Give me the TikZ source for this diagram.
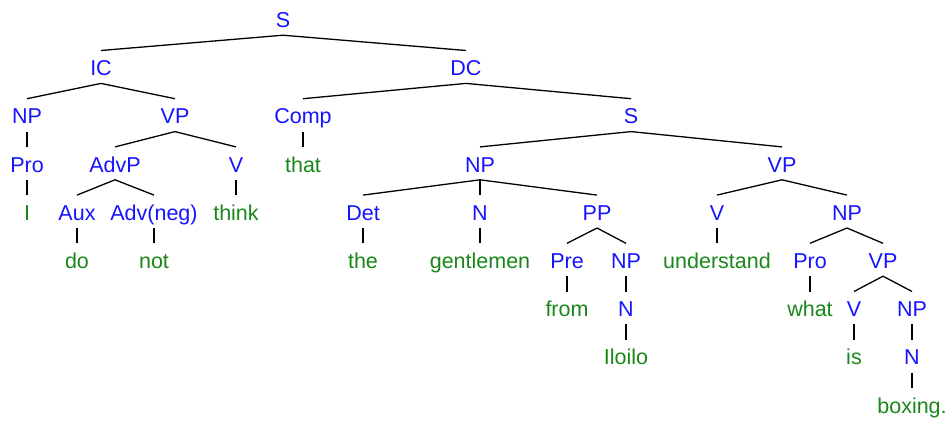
\documentclass[tikz,border=0pt]{standalone}
\usepackage{fontspec}
\setmainfont{Liberation Sans}
\definecolor{catblue}{RGB}{20,20,255}
\definecolor{wordgreen}{RGB}{25,135,25}
\begin{document}
\begin{tikzpicture}[x=1pt,y=-1pt,
  lab/.style={anchor=base,inner sep=0pt,text height=15pt,text depth=5pt,font=\fontsize{21.5}{24}\selectfont},
  cat/.style={lab,text=catblue},
  wrd/.style={lab,text=wordgreen},
  edge/.style={black,line width=1.3pt}]
\useasboundingbox (0,0) rectangle (946,421);
% baselines
\def\la{27.5}\def\lb{75.7}\def\lc{123.9}\def\ld{172.1}\def\le{220.3}
\def\lf{268.5}\def\lg{316.7}\def\lh{364.9}\def\li{413.1}
% level 1
\node[cat] (S) at (283,\la) {S};
% level 2
\node[cat] (IC) at (101,\lb) {IC};
\node[cat] (DC) at (466,\lb) {DC};
% level 3
\node[cat] (NP1) at (27,\lc) {NP};
\node[cat] (VP1) at (175,\lc) {VP};
\node[cat] (Comp) at (303,\lc) {Comp};
\node[cat] (S2) at (631,\lc) {S};
% level 4
\node[cat] (Pro1) at (27,\ld) {Pro};
\node[cat] (AdvP) at (115,\ld) {AdvP};
\node[cat] (V1) at (236,\ld) {V};
\node[wrd] (that) at (303,\ld) {that};
\node[cat] (NP2) at (480,\ld) {NP};
\node[cat] (VP2) at (782,\ld) {VP};
% level 5
\node[wrd] (I) at (27,\le) {I};
\node[cat] (Aux) at (77,\le) {Aux};
\node[cat] (Adv) at (154,\le) {Adv(neg)};
\node[wrd] (think) at (236,\le) {think};
\node[cat] (Det) at (363,\le) {Det};
\node[cat] (N1) at (480,\le) {N};
\node[cat] (PP) at (597,\le) {PP};
\node[cat] (V2) at (717,\le) {V};
\node[cat] (NP3) at (847,\le) {NP};
% level 6
\node[wrd] (do) at (77,\lf) {do};
\node[wrd] (not) at (154,\lf) {not};
\node[wrd] (the) at (363,\lf) {the};
\node[wrd] (gent) at (480,\lf) {gentlemen};
\node[cat] (Pre) at (567,\lf) {Pre};
\node[cat] (NP4) at (626,\lf) {NP};
\node[wrd] (und) at (717,\lf) {understand};
\node[cat] (Pro2) at (810,\lf) {Pro};
\node[cat] (VP3) at (883,\lf) {VP};
% level 7
\node[wrd] (from) at (567,\lg) {from};
\node[cat] (N2) at (626,\lg) {N};
\node[wrd] (what) at (810,\lg) {what};
\node[cat] (V3) at (854,\lg) {V};
\node[cat] (NP5) at (912,\lg) {NP};
% level 8
\node[wrd] (Iloilo) at (626,\lh) {Iloilo};
\node[wrd] (is) at (854,\lh) {is};
\node[cat] (N3) at (912,\lh) {N};
% level 9
\node[wrd] (boxing) at (912,\li) {boxing.};
% edges
\foreach \p/\c in {S/IC,S/DC,IC/NP1,IC/VP1,DC/Comp,DC/S2,
  NP1/Pro1,VP1/AdvP,VP1/V1,Comp/that,S2/NP2,S2/VP2,
  Pro1/I,AdvP/Aux,AdvP/Adv,V1/think,NP2/Det,NP2/N1,NP2/PP,VP2/V2,VP2/NP3,
  Aux/do,Adv/not,Det/the,N1/gent,PP/Pre,PP/NP4,V2/und,NP3/Pro2,NP3/VP3,
  Pre/from,NP4/N2,Pro2/what,VP3/V3,VP3/NP5,
  N2/Iloilo,V3/is,NP5/N3,N3/boxing}
  \draw[edge] ([yshift=-2.5pt]\p.south) -- ([yshift=10pt]\c.north);
\end{tikzpicture}
\end{document}
